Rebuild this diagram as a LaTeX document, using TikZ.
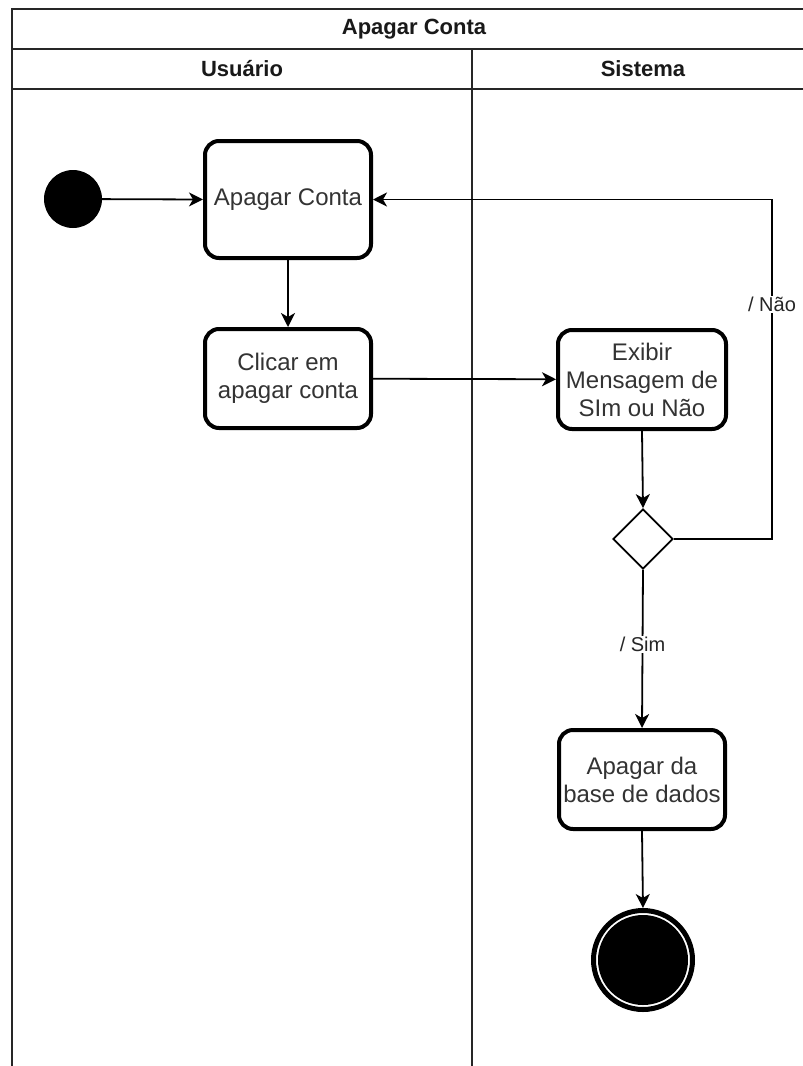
\documentclass[tikz,border=0pt]{standalone}
\usepackage{fontspec}
\setmainfont{Liberation Sans}
\usetikzlibrary{shapes.geometric,arrows.meta}
\begin{document}
\begin{tikzpicture}[x=1pt,y=-1pt,
  lane/.style={line width=2pt,draw=black!85},
  act/.style={draw=black,line width=4pt,rounded corners=14pt,fill=white,
    align=center,text=black!80,font=\fontsize{24}{28}\selectfont,inner sep=0pt},
  hdr/.style={font=\bfseries\fontsize{22}{28}\selectfont,text=black!90},
  flow/.style={line width=1.8pt,-{Stealth[length=14pt,width=14pt,inset=4pt]}},
  lbl/.style={fill=white,font=\fontsize{20}{22}\selectfont,text=black!85,inner sep=1pt}]
\useasboundingbox (0,0) rectangle (803,1066);
\clip (0,0) rectangle (803,1066);
\fill[white] (0,0) rectangle (803,1066);
% swimlane frame
\draw[lane] (12,1070) -- (12,9) -- (820,9);
\draw[lane] (12,49) -- (820,49);
\draw[lane] (12,89) -- (820,89);
\draw[lane] (472,49) -- (472,1070);
\node[hdr] (title) at (414,29) {Apagar Conta};
\node[hdr] (usr) at (242,69) {Usuário};
\node[hdr] (sys) at (643,69) {Sistema};
% nodes
\node[circle,fill=black,minimum size=58pt,inner sep=0pt] (start) at (73,199) {};
\node[act,minimum width=166pt,minimum height=117pt] (a1) at (288,199.5) {Apagar Conta};
\node[act,minimum width=166pt,minimum height=99pt] (a2) at (288,378.5) {Clicar em\\apagar conta};
\node[act,minimum width=168pt,minimum height=99pt] (a3) at (642,379.5) {Exibir\\Mensagem de\\SIm ou Não};
\node[diamond,draw=black,line width=1.8pt,fill=white,minimum width=60pt,minimum height=60pt,inner sep=0pt] (d) at (643,539) {};
\node[act,minimum width=166pt,minimum height=99pt] (a4) at (642,779.5) {Apagar da\\base de dados};
\node[circle,draw=black,line width=5pt,fill=white,minimum size=99pt,inner sep=0pt] (end) at (643,960) {};
\node[circle,fill=black,minimum size=90pt,inner sep=0pt] (endin) at (643,960) {};
\coordinate (turn) at (772,539);
% connectors
\draw[flow] (start) -- (a1.west);
\draw[flow] (a1) -- (a2);
\draw[flow] (a2) -- (a3);
\draw[flow] (a3.south) -- (d.north);
\draw[flow] (d.south) -- node[lbl,pos=0.47] {/ Sim} (a4.north);
\draw[flow] (d.east) -- (turn) |- node[lbl,pos=0.345] {/ Não} (a1.east);
\draw[flow] (a4.south) -- (end.north);
\end{tikzpicture}
\end{document}
